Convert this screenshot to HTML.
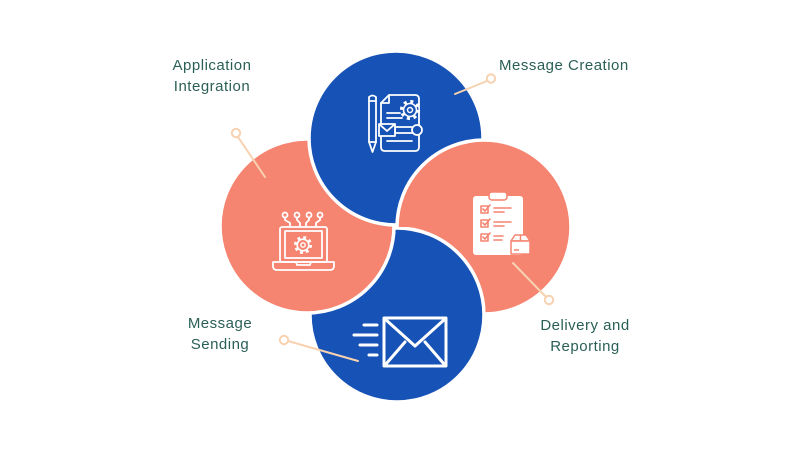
<!DOCTYPE html>
<html>
<head>
<meta charset="utf-8">
<style>
  html, body { margin: 0; padding: 0; background: #ffffff; }
  body { width: 800px; height: 450px; overflow: hidden; }
  svg { display: block; }
  .lbl { font-family: "Liberation Sans", sans-serif; font-size: 15px; fill: #2b5f56; letter-spacing: 0.5px; }
</style>
</head>
<body>
<svg width="800" height="450" viewBox="0 0 800 450" xmlns="http://www.w3.org/2000/svg">
  <defs>
    <clipPath id="clipLeft"><rect x="0" y="0" width="396" height="450"/></clipPath>
    <clipPath id="clipTop"><rect x="0" y="0" width="800" height="227"/></clipPath>
  </defs>
  <rect width="800" height="450" fill="#ffffff"/>

  <!-- circles: order R, B, L, T, then R redrawn over T -->
  <circle cx="484" cy="227" r="87" fill="#f58470" stroke="#fff" stroke-width="3.5"/>
  <circle cx="397" cy="315" r="87" fill="#1752b6" stroke="#fff" stroke-width="3.5"/>
  <circle cx="307" cy="226" r="87" fill="#f58470" stroke="#fff" stroke-width="3.5"/>
  <circle cx="396" cy="138" r="87" fill="#1752b6" stroke="#fff" stroke-width="3.5"/>
  <g clip-path="url(#clipTop)">
    <circle cx="484" cy="227" r="87" fill="#f58470" stroke="#fff" stroke-width="3.5"/>
  </g>

  <!-- Message creation icon -->
  <g fill="none" stroke="#fff" stroke-width="1.8" stroke-linejoin="round" stroke-linecap="round">
    <path d="M369 97 Q372.5 94 376 97 L376 142 L372.5 152 L369 142 Z"/>
    <line x1="369" y1="101" x2="376" y2="101"/>
    <line x1="369" y1="142" x2="376" y2="142"/>
    <path d="M389 95 L415 95 Q419 95 419 99 L419 147 Q419 151 415 151 L385 151 Q381 151 381 147 L381 103 Z"/>
    <path d="M381 103 L389 103 L389 95"/>
    <line x1="387" y1="113" x2="400" y2="113"/>
    <line x1="387" y1="118" x2="402" y2="118"/>
    <line x1="387" y1="141" x2="412" y2="141"/>
  </g>
  <circle cx="410" cy="110" r="8.5" fill="#1752b6" stroke="#fff" stroke-width="3.2" stroke-dasharray="3 3.68"/>
  <circle cx="410" cy="110" r="6.5" fill="#1752b6" stroke="#fff" stroke-width="1.6"/>
  <circle cx="410" cy="110" r="2.5" fill="none" stroke="#fff" stroke-width="1.5"/>
  <g fill="#1752b6" stroke="#fff" stroke-width="1.8" stroke-linejoin="round">
    <path d="M395 127 L413 127 L413 133 L395 133 Z"/>
    <circle cx="417" cy="130" r="5"/>
    <rect x="379" y="124" width="16" height="12"/>
    <path d="M379 124 L387 131 L395 124" fill="none"/>
  </g>

  <!-- Laptop icon -->
  <g fill="none" stroke="#fff" stroke-width="1.8" stroke-linejoin="round" stroke-linecap="round">
    <rect x="280" y="227" width="47" height="35" rx="2"/>
    <rect x="285" y="231" width="37" height="27"/>
    <path d="M273 262 L334 262 L334 266 Q334 270 330 270 L277 270 Q273 270 273 266 Z"/>
    <path d="M296 262 L297 265 L310 265 L311 262"/>
    <circle cx="285" cy="215" r="2.5"/>
    <circle cx="297" cy="215" r="2.5"/>
    <circle cx="309" cy="215" r="2.5"/>
    <circle cx="320" cy="215" r="2.5"/>
    <path d="M285 217.5 L285 220 L290 223 L290 227"/>
    <path d="M297 217.5 L297 220 L300 223 L300 227"/>
    <path d="M309 217.5 L309 220 L306 223 L306 227"/>
    <path d="M320 217.5 L320 220 L316 223 L316 227"/>
  </g>
  <circle cx="303" cy="245" r="7.5" fill="none" stroke="#fff" stroke-width="3" stroke-dasharray="2.8 3.1"/>
  <circle cx="303" cy="245" r="5.8" fill="#f58470" stroke="#fff" stroke-width="1.6"/>
  <circle cx="303" cy="245" r="2.2" fill="none" stroke="#fff" stroke-width="1.4"/>

  <!-- Clipboard icon -->
  <rect x="473" y="196" width="50" height="59" rx="3" fill="#fff"/>
  <rect x="489" y="192" width="18" height="8" rx="3" fill="#fff" stroke="#f58470" stroke-width="1.5"/>
  <g fill="none" stroke="#f58470" stroke-width="1.6" stroke-linecap="round" stroke-linejoin="round">
    <rect x="481" y="206" width="7" height="7"/>
    <path d="M483 209 L485 211 L490 205"/>
    <line x1="494" y1="208" x2="511" y2="208"/>
    <line x1="494" y1="212" x2="504" y2="212"/>
    <rect x="481" y="220" width="7" height="7"/>
    <path d="M483 223 L485 225 L490 219"/>
    <line x1="494" y1="222" x2="511" y2="222"/>
    <line x1="494" y1="226" x2="504" y2="226"/>
    <rect x="481" y="234" width="7" height="7"/>
    <path d="M483 237 L485 239 L490 233"/>
    <line x1="494" y1="236" x2="503" y2="236"/>
    <line x1="494" y1="240" x2="502" y2="240"/>
  </g>
  <g stroke="#f58470" stroke-width="1.5" stroke-linejoin="round">
    <path d="M511 241 L515 235 L526 235 L530 241 Z" fill="#fff"/>
    <rect x="511" y="241" width="19" height="13" fill="#fff"/>
    <line x1="520.5" y1="235" x2="520.5" y2="241"/>
    <line x1="514" y1="250" x2="519" y2="250"/>
  </g>

  <!-- Envelope icon -->
  <g fill="none" stroke="#fff" stroke-width="3" stroke-linecap="round" stroke-linejoin="round">
    <rect x="384" y="318" width="62" height="48"/>
    <path d="M385 319 L415 346 L445 319"/>
    <line x1="386" y1="364" x2="405" y2="342"/>
    <line x1="444" y1="364" x2="425" y2="342"/>
    <line x1="364" y1="325" x2="377" y2="325"/>
    <line x1="354" y1="335" x2="377" y2="335"/>
    <line x1="360" y1="345" x2="377" y2="345"/>
    <line x1="369" y1="355" x2="377" y2="355"/>
  </g>

  <!-- connectors -->
  <g stroke="#f7d2b0" stroke-width="2" fill="#fff" stroke-linecap="round">
    <line x1="238" y1="137" x2="265" y2="177"/>
    <circle cx="236" cy="133" r="4.2"/>
    <line x1="487" y1="81" x2="455" y2="94"/>
    <circle cx="491" cy="78.5" r="4.2"/>
    <line x1="288" y1="341" x2="358" y2="361"/>
    <circle cx="284" cy="340" r="4.2"/>
    <line x1="513" y1="263" x2="546" y2="297"/>
    <circle cx="549" cy="300" r="4.2"/>
  </g>

  <!-- labels -->
  <text class="lbl" x="212" y="70" text-anchor="middle">Application</text>
  <text class="lbl" x="212" y="91" text-anchor="middle">Integration</text>
  <text class="lbl" x="499" y="70">Message Creation</text>
  <text class="lbl" x="220" y="328" text-anchor="middle">Message</text>
  <text class="lbl" x="220" y="349" text-anchor="middle">Sending</text>
  <text class="lbl" x="585" y="330" text-anchor="middle">Delivery and</text>
  <text class="lbl" x="585" y="351" text-anchor="middle">Reporting</text>
</svg>
</body>
</html>
